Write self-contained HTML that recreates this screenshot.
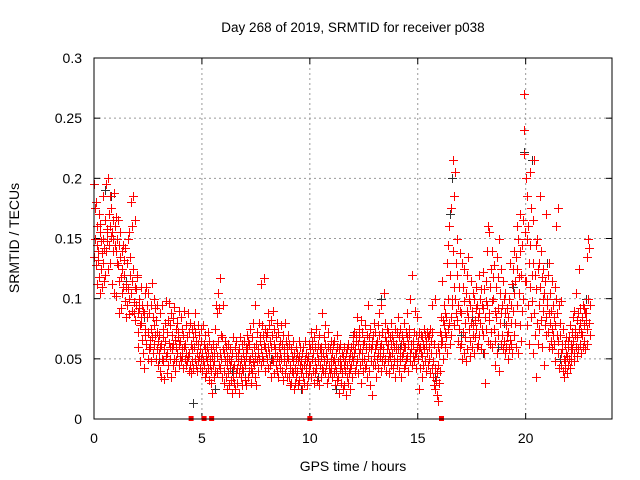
<!DOCTYPE html>
<html><head><meta charset="utf-8"><style>
body{margin:0;background:#fff;width:640px;height:480px;overflow:hidden}
svg{display:block;font-family:"Liberation Sans",sans-serif}
</style></head><body>
<svg id="chart" width="640" height="480">
<rect width="640" height="480" fill="#fff"/>
<text x="353" y="32" text-anchor="middle" font-size="13.5" fill="#000">Day 268 of 2019, SRMTID for receiver p038</text>
<text x="353" y="471" text-anchor="middle" font-size="14">GPS time / hours</text>
<text transform="translate(19,238) rotate(-90)" text-anchor="middle" font-size="14">SRMTID / TECUs</text>
<g id="grid"></g><g id="ticks"></g><g id="gray" shape-rendering="crispEdges"></g><g id="red" shape-rendering="crispEdges"></g><g id="sq"></g>
<rect x="94" y="58" width="518" height="361" fill="none" stroke="#000"/>
</svg>
<script>
// SRMTID values in thousandths of TECU, 5 samples per 0.1 hour slot, starting at 0 h
const srmtidMilli = [
195,135,150,175,128, 180,112,145,160,132, 140,118,170,105,155, 162,125,148,110,138, 150,130,185,115,142, 165,120,195,140,155, 158,148,200,125,170, 145,185,160,130,152, 175,112,155,140,165, 150,188,105,145,160,
168,140,102,150,130, 165,128,88,145,115, 135,155,118,92,140, 125,105,145,110,132, 120,98,142,110,85, 112,130,95,150,108, 100,155,87,120,135, 180,105,90,115,160, 185,125,97,88,110, 165,82,108,95,118,
120,88,72,60,100, 92,78,48,85,110, 80,66,95,55,90, 88,42,75,105,70, 110,62,85,95,50, 72,105,58,88,66, 60,95,75,48,113, 68,85,55,100,78, 62,92,70,50,82, 95,58,72,45,65,
70,55,40,88,60, 62,35,95,50,75, 48,68,33,58,80, 65,52,98,38,72, 55,82,45,63,96, 78,50,60,35,88, 58,70,45,84,62, 50,93,66,40,75, 60,48,80,55,68, 72,45,62,90,52,
65,48,85,58,75, 52,70,42,90,60, 62,50,78,45,55, 48,68,52,88,40, 72,55,45,80,62, 38,58,75,48,68, 42,60,78,50,88, 72,45,65,55,40, 62,78,48,70,52, 58,42,75,65,50,
55,40,78,48,62, 45,70,35,58,52, 38,60,48,72,42, 55,32,65,45,50, 40,58,30,52,22, 62,45,35,55,48, 75,40,95,60,52, 88,38,105,65,45, 92,55,117,42,70, 50,68,35,95,58,
40,55,30,65,48, 35,60,45,25,52, 62,38,50,28,45, 42,58,32,48,22, 55,35,68,42,30, 45,25,60,38,52, 65,42,30,55,48, 38,58,22,45,68, 50,35,62,28,42, 55,40,48,65,32,
45,60,28,52,70, 58,35,65,48,40, 62,50,75,42,30, 55,68,38,80,47, 60,45,95,52,35, 28,62,48,72,55, 40,58,80,50,65, 68,45,112,58,78, 52,70,48,117,62, 60,40,75,55,68,
72,50,88,60,42, 55,78,45,65,35, 60,82,50,70,90, 48,62,38,75,55, 58,45,68,80,40, 52,72,35,60,48, 65,42,55,78,50, 40,62,32,70,55, 58,48,80,38,65, 45,60,35,52,70,
50,35,62,42,28, 45,58,30,52,40, 38,65,48,25,55, 42,30,60,50,35, 55,40,28,48,65, 32,52,45,60,38, 48,25,55,42,35, 60,45,30,65,50, 38,55,42,28,48, 52,35,62,45,40,
58,45,72,35,62, 50,65,40,55,30, 68,48,60,38,75, 42,55,32,50,62, 48,70,28,58,45, 60,35,52,88,42, 55,40,68,48,78, 38,62,45,55,30, 50,72,35,60,42, 45,58,38,65,50,
42,55,35,62,48, 38,50,65,28,45, 55,40,60,32,70, 48,35,58,22,50, 42,62,30,45,55, 38,52,25,60,45, 28,48,40,55,20, 35,58,45,62,30, 50,38,55,42,25, 45,60,35,52,68,
62,48,72,55,40, 58,70,45,65,85, 50,62,38,75,55, 68,45,58,30,82, 55,72,48,62,40, 65,50,78,42,58, 60,45,70,35,95, 52,68,40,60,75, 28,58,48,65,20, 62,45,70,52,80,
58,72,45,62,35, 65,50,78,55,42, 70,88,52,60,40, 62,95,48,72,55, 58,105,45,68,80, 50,65,40,75,58, 62,48,72,55,38, 68,52,80,45,62, 55,70,42,65,50, 60,48,75,35,58,
62,50,72,45,85, 58,68,40,75,55, 48,62,35,70,52, 65,55,80,42,60, 60,45,72,50,88, 52,68,40,62,75, 70,55,100,48,62, 58,120,45,65,52, 62,48,72,55,90, 55,70,42,85,60,
65,50,72,25,58, 60,42,70,55,35, 68,52,62,45,75, 58,70,48,65,40, 62,55,72,45,68, 70,50,60,38,75, 55,65,42,72,95, 48,35,62,28,100, 42,25,55,32,20, 38,60,15,45,30,
55,72,40,85,62, 70,115,65,82,50, 78,95,60,72,88, 85,68,130,55,75, 100,145,80,160,62, 120,85,175,70,100, 95,140,215,78,110, 185,100,205,130,88, 150,82,120,65,95, 110,75,138,60,90,
62,88,130,50,110, 72,98,55,125,80, 68,105,48,90,120, 58,85,135,75,100, 65,95,52,80,115, 90,60,78,105,70, 55,100,82,68,92, 75,110,60,95,85, 62,120,88,70,100, 80,58,108,75,95,
70,92,122,55,108, 85,30,115,75,98, 95,140,65,160,82, 88,155,110,62,125, 72,98,140,60,118, 100,75,128,90,45, 65,110,85,135,55, 92,70,118,40,150, 80,105,62,125,88, 95,70,115,58,100,
65,88,105,55,78, 60,92,70,50,85, 72,100,58,130,66, 62,95,80,112,55, 90,125,70,140,105, 115,80,135,60,160, 125,95,150,55,118, 105,170,78,140,65, 120,145,90,165,100, 270,240,220,115,155,
200,115,185,78,150, 160,95,130,62,205, 110,145,85,175,120, 98,165,55,130,215, 88,120,70,145,35, 108,80,150,62,125, 95,130,75,110,185, 82,140,60,118,100, 90,125,45,105,78, 115,85,170,70,100,
95,72,120,60,88, 130,80,105,65,90, 75,115,58,95,70, 85,62,110,48,78, 100,160,70,88,55, 175,65,95,42,80, 70,55,98,45,62, 58,40,75,50,35, 48,62,42,55,68, 52,38,65,45,60,
50,68,42,78,55, 62,48,72,58,85, 65,55,90,48,70, 75,60,105,52,82, 68,88,58,125,75, 80,62,92,55,72, 85,70,95,60,78, 92,65,88,58,82, 88,75,135,62,100, 150,80,142,70,95
];
const grayHours = [0.1,0.5,0.8,1.5,2.3,3.0,4.6,5.6,6.4,7.0,8.2,9.6,10.4,11.2,12.0,13.3,14.2,15.8,16.5,16.6,17.0,17.5,18.0,18.7,19.0,19.4,19.9,19.92,20.3,21.0,21.6,22.2,22.8];
const grayValues = [0.18,0.19,0.185,0.115,0.085,0.05,0.013,0.025,0.04,0.035,0.05,0.025,0.035,0.025,0.07,0.1,0.06,0.035,0.17,0.2,0.07,0.085,0.055,0.06,0.08,0.11,0.27,0.222,0.215,0.13,0.05,0.065,0.1];
const gapHours = [4.5,5.1,5.45,10.0,16.1];
const xTicks = [0,5,10,15,20];
const yTicks = [0,0.05,0.1,0.15,0.2,0.25,0.3];
const yTickLabels = ["0","0.05","0.1","0.15","0.2","0.25","0.3"];

const NS="http://www.w3.org/2000/svg";
const X0=94,X1=612,Y0=419,Y1=58,XMAX=24,YMAX=0.3;
const sx=h=>X0+h/XMAX*(X1-X0);
const sy=v=>Y0-v/YMAX*(Y0-Y1);
function mk(tag,attrs,parent){const e=document.createElementNS(NS,tag);for(const k in attrs)e.setAttribute(k,attrs[k]);parent.appendChild(e);return e;}
const grid=document.getElementById('grid'),ticks=document.getElementById('ticks');
xTicks.forEach(t=>{
  const x=sx(t);
  if(t>0){const g=mk('line',{x1:x,y1:Y1,x2:x,y2:Y0,stroke:'#999','stroke-dasharray':'2,3'},grid);
  
  }
  mk('line',{x1:x,y1:Y0,x2:x,y2:Y0-6,stroke:'#000'},ticks);
  mk('line',{x1:x,y1:Y1,x2:x,y2:Y1+6,stroke:'#000'},ticks);
  const l=mk('text',{x:x,y:443,'text-anchor':'middle','font-size':'14'},ticks);l.textContent=t;
  
  
});
yTicks.forEach((t,i)=>{
  const y=sy(t);
  if(t>0&&t<YMAX){const g=mk('line',{x1:X0,y1:y,x2:X1,y2:y,stroke:'#999','stroke-dasharray':'2,3'},grid);
  
  }
  mk('line',{x1:X0,y1:y,x2:X0+6,y2:y,stroke:'#000'},ticks);
  mk('line',{x1:X1,y1:y,x2:X1-6,y2:y,stroke:'#000'},ticks);
  const l=mk('text',{x:82,y:y+5,'text-anchor':'end','font-size':'14'},ticks);l.textContent=yTickLabels[i];
  
  
});
function cross(h,v,color,parent,name){
  const x=Math.round(sx(h)),y=Math.round(sy(v));
  const g=mk('g',{fill:color},parent);
  
  
  mk('rect',{x:x-4,y:y,width:9,height:1},g);
  mk('rect',{x:x,y:y-4,width:1,height:9},g);
}
const gray=document.getElementById('gray');
grayHours.forEach((h,i)=>cross(h,grayValues[i],'#333',gray,'gray-point'));
const red=document.getElementById('red');
srmtidMilli.forEach((v,i)=>{
  const slot=Math.floor(i/5),j=i%5;
  cross(slot*0.1+j*0.02,v/1000,'#ff0000',red,'srmtid-point');
});
const sq=document.getElementById('sq');
gapHours.forEach(h=>{
  const r=mk('rect',{x:sx(h)-2.5,y:Y0-3,width:5,height:5,fill:'#f00'},sq);
  
  
});
</script>
</body></html>
